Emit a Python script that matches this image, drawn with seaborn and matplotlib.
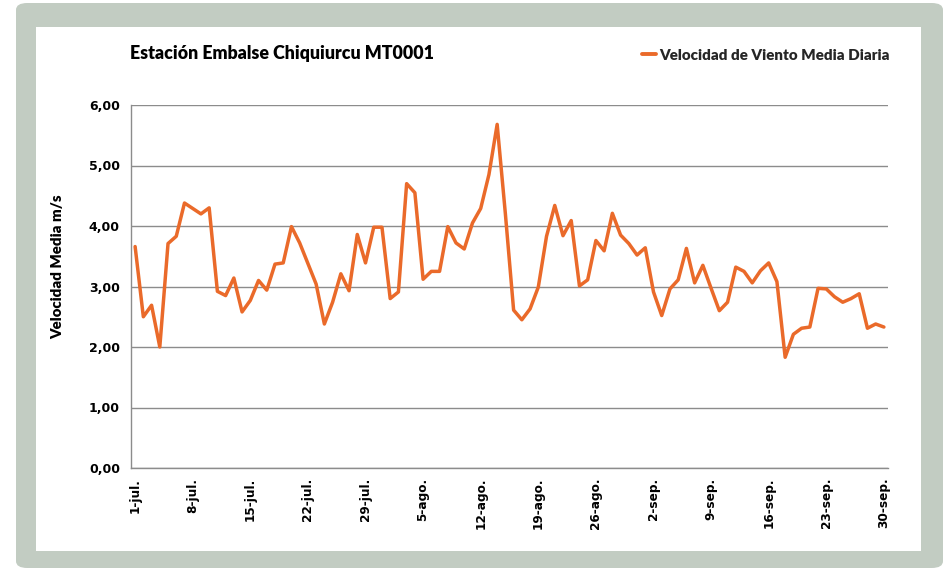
import numpy as np
import pandas as pd
import matplotlib
matplotlib.use("Agg")
import matplotlib.pyplot as plt
from matplotlib.patches import FancyBboxPatch, Rectangle
from matplotlib.lines import Line2D
import seaborn as sns

# ---- data ----
day_index = list(range(92))  # 1-jul .. 30-sep
velocidad = [
    3.66, 2.50, 2.69, 2.00, 3.71, 3.83, 4.38, 4.29, 4.20, 4.30,
    2.92, 2.85, 3.14, 2.58, 2.77, 3.10, 2.94, 3.37, 3.39, 3.99,
    3.72, 3.38, 3.04, 2.38, 2.74, 3.21, 2.93, 3.86, 3.39, 3.98,
    3.98, 2.80, 2.91, 4.70, 4.55, 3.12, 3.25, 3.25, 3.99, 3.72,
    3.62, 4.05, 4.29, 4.85, 5.68, 4.20, 2.61, 2.45, 2.63, 2.99,
    3.83, 4.34, 3.84, 4.09, 3.01, 3.11, 3.76, 3.59, 4.21, 3.85,
    3.71, 3.52, 3.64, 2.91, 2.52, 2.96, 3.11, 3.63, 3.06, 3.35,
    2.97, 2.60, 2.74, 3.32, 3.25, 3.06, 3.26, 3.39, 3.08, 1.83,
    2.21, 2.31, 2.33, 2.97, 2.96, 2.83, 2.74, 2.80, 2.88, 2.31,
    2.38, 2.33,
]
tick_positions = [0, 7, 14, 21, 28, 35, 42, 49, 56, 63, 70, 77, 84, 91]
tick_labels = ["1-jul.", "8-jul.", "15-jul.", "22-jul.", "29-jul.", "5-ago.",
               "12-ago.", "19-ago.", "26-ago.", "2-sep.", "9-sep.", "16-sep.",
               "23-sep.", "30-sep."]
y_ticks = [0, 1, 2, 3, 4, 5, 6]
y_tick_labels = ["0,00", "1,00", "2,00", "3,00", "4,00", "5,00", "6,00"]
series_name = "Velocidad de Viento Media Diaria"
title = "Estación Embalse Chiquiurcu MT0001"
ylabel = "Velocidad Media m/s"

df = pd.DataFrame({"dia": day_index, "vel": velocidad, "serie": series_name})

sns.set_theme(style="white")
plt.rcParams["font.family"] = ["DejaVu Sans"]

W, H = 948, 571
fig = plt.figure(figsize=(W / 100, H / 100), dpi=100)
fig.patch.set_facecolor("white")

# outer frame (rounded) and inner white panel
frame = FancyBboxPatch((16 / W, 3 / H), (943 - 16) / W, (568 - 3) / H,
                       boxstyle="round,pad=0,rounding_size=0.012",
                       transform=fig.transFigure, facecolor="#c2ccc2",
                       edgecolor="none", zorder=-2)
fig.patches.append(frame)
panel = Rectangle((36 / W, 1 - 551 / H), (921 - 36) / W, (551 - 27) / H,
                  transform=fig.transFigure, facecolor="white",
                  edgecolor="none", zorder=-1)
fig.patches.append(panel)

ax = fig.add_axes([131 / W, 1 - 468 / H, 757 / W, 363 / H])
ax.set_zorder(2)
ax.set_facecolor("none")

orange = "#ea6a2a"
sns.lineplot(data=df, x="dia", y="vel", hue="serie", palette=[orange],
             linewidth=2.5, ax=ax, legend=False)

ax.set_xlim(-0.5, 91.5)
ax.set_ylim(0, 6)
ax.set_yticks(y_ticks)
ax.set_yticklabels(y_tick_labels, fontsize=9, fontweight="bold", color="black")
ax.set_xticks(tick_positions)
ax.set_xticklabels(tick_labels, rotation=90, fontsize=8.7, fontweight="bold",
                   va="top", color="black")
ax.tick_params(axis="y", length=0, pad=8)
ax.tick_params(axis="x", length=0, pad=7)
ax.yaxis.grid(True, color="#8c8c8c", linewidth=1.0)
ax.xaxis.grid(False)
ax.set_axisbelow(True)
for s in ["top", "right"]:
    ax.spines[s].set_visible(False)
for s in ["left", "bottom"]:
    ax.spines[s].set_color("#8c8c8c")
    ax.spines[s].set_linewidth(1.0)
ax.set_xlabel("")
ax.set_ylabel(ylabel, fontsize=10.8, fontweight="heavy", family="Lato",
              color="black")
ax.yaxis.set_label_coords((64 - 131) / 757, (468 - 267) / 363)

fig.text(130 / W, 1 - 53 / H, title, fontsize=12.8, fontweight="heavy",
         family="Lato", ha="left", va="center", color="black")

handle = Line2D([], [], color=orange, linewidth=2.8)
fig.legend([handle], [series_name], loc="center right",
           bbox_to_anchor=(890 / W, 1 - 55 / H), frameon=False,
           handlelength=0.95, handletextpad=0.2, borderpad=0, borderaxespad=0,
           prop={"family": "Lato", "weight": "heavy", "size": 10.9})

fig.savefig("out.png", dpi=100)
